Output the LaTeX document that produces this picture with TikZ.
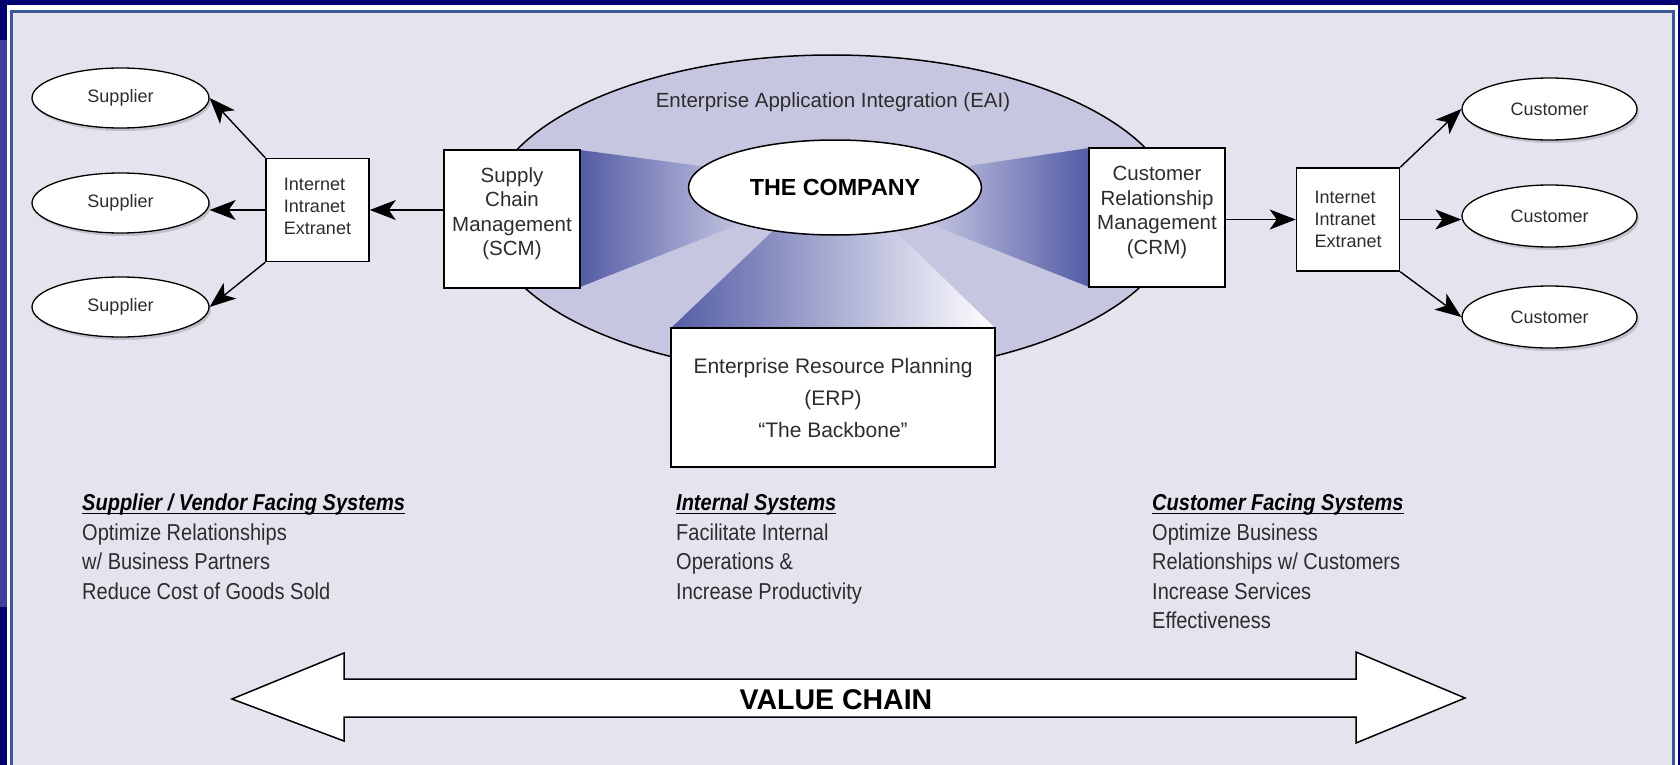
\documentclass[tikz,border=0pt]{standalone}
\usepackage{fontspec}
\setmainfont{Liberation Sans}
\newfontfamily\narrowfont[FakeStretch=0.87]{Liberation Sans}
\usetikzlibrary{arrows.meta,shapes.geometric,shadows}

\definecolor{framenavy}{RGB}{2,2,112}
\definecolor{framestrip}{RGB}{64,64,152}
\definecolor{panelbg}{RGB}{230,226,238}
\definecolor{panelrule}{RGB}{58,88,150}
\definecolor{eaifill}{RGB}{198,198,224}
\definecolor{wedgedark}{RGB}{84,92,165}
\definecolor{wedgelight}{RGB}{205,205,230}
\definecolor{inktext}{RGB}{45,45,45}

% heading with a heavy underline
\newcommand\ulhead[1]{\setbox0\hbox{#1}\rlap{\rule[-3.5pt]{\wd0}{1.6pt}}\box0}

\begin{document}
\begin{tikzpicture}[x=1pt,y=-1pt,
  oval/.style={ellipse, draw, fill=white, line width=1.3pt, inner sep=0pt,
    text=inktext, font=\fontsize{18}{22}\selectfont,
    drop shadow={shadow xshift=2pt, shadow yshift=-3pt, opacity=0.15, fill=black}},
  netbox/.style={draw, fill=white, line width=1.6pt, inner sep=0pt,
    minimum width=103pt, minimum height=103pt, align=left,
    text=inktext, font=\fontsize{18}{22}\selectfont},
  sysbox/.style={draw, fill=white, line width=1.8pt, inner sep=0pt,
    minimum width=136pt, minimum height=138pt, align=center,
    text=inktext, font=\fontsize{20.5}{24.5}\selectfont},
  flow/.style={line width=1.4pt,
    -{Stealth[length=26pt,width=20pt,inset=7pt,line width=1pt]}},
  notes/.style={anchor=north west, align=left, inner sep=0pt, text=inktext,
    font=\narrowfont\fontsize{23}{29.5}\selectfont},
]
\useasboundingbox (0,0) rectangle (1680,765);

% slide frame and panel
\fill[framenavy] (0,0) rectangle (1680,765);
\fill[framestrip] (0,40) rectangle (7,607);
\fill[white] (7,5) rectangle (1678,765);
\fill[panelbg] (10,10) rectangle (1675,765);
\draw[panelrule, line width=3pt] (11.5,780) -- (11.5,11.5) -- (1673.5,11.5) -- (1673.5,780);

% integration ring
\node[ellipse, draw, fill=eaifill, line width=1.5pt, minimum width=690pt,
  minimum height=320pt] (eai) at (832,215) {};
\node[text=inktext, font=\fontsize{20.5}{24}\selectfont] (eailabel) at (833,102)
  {Enterprise Application Integration (EAI)};

% shaded spokes towards the core
\shade[left color=wedgedark, right color=wedgelight]
  (580,150) -- (715,168) -- (755,218) -- (580,287) -- cycle;
\shade[left color=wedgelight, right color=wedgedark]
  (1089,148) -- (955,168) -- (915,218) -- (1089,287) -- cycle;
\shade[left color=wedgedark, right color=white]
  (671,328) -- (776,228) -- (892,228) -- (995,328) -- cycle;

% core
\node[ellipse, draw, fill=white, line width=1.5pt, minimum width=293pt,
  minimum height=95pt, inner sep=0pt, font=\bfseries\fontsize{23.3}{26}\selectfont]
  (core) at (835,187.5) {THE COMPANY};

% systems (the empty last line lifts the wording a little inside the box)
\node[sysbox] (scm) at (512,219) {Supply\\Chain\\Management\\(SCM)\\[-10pt]\mbox{}};
\node[sysbox, minimum height=139pt] (crm) at (1157,217.5)
  {Customer\\Relationship\\Management\\(CRM)\\[-10pt]\mbox{}};
\node[sysbox, minimum width=324pt, minimum height=139pt,
  font=\fontsize{21}{32}\selectfont] (erp) at (833,397.5)
  {Enterprise Resource Planning\\(ERP)\\``The Backbone''};

% network hubs
\node[netbox] (netl) at (317.5,210) {Internet\\Intranet\\Extranet\\[-14pt]\mbox{}};
\node[netbox] (netr) at (1348,219.5) {Internet\\Intranet\\Extranet};

% partners
\node[oval, minimum width=177pt, minimum height=60pt] (sup1) at (120.5,98) {Supplier};
\node[oval, minimum width=177pt, minimum height=60pt] (sup2) at (120.5,203) {Supplier};
\node[oval, minimum width=177pt, minimum height=60pt] (sup3) at (120.5,307) {Supplier};
\node[oval, minimum width=175pt, minimum height=62pt] (cus1) at (1549.5,109) {Customer};
\node[oval, minimum width=175pt, minimum height=62pt] (cus2) at (1549.5,216) {Customer};
\node[oval, minimum width=175pt, minimum height=62pt] (cus3) at (1549.5,317) {Customer};

% flows
\draw[flow] (scm.west |- netl.east) -- (netl.east);
\draw[flow] (netl.west) -- (netl.west -| sup2.east);
\draw[flow] (netl.north west) -- (sup1.east);
\draw[flow] (netl.south west) -- (sup3.east);
\draw[flow] (crm.east |- netr.west) -- (netr.west);
\draw[flow] (netr.east) -- (netr.east -| cus2.west);
\draw[flow] (netr.north east) -- (cus1.west);
\draw[flow] (netr.south east) -- (cus3.west);

% notes
\node[notes] (supnotes) at (82,494)
  {{\color{black}\bfseries\itshape\ulhead{Supplier / Vendor Facing Systems}}\\
   Optimize Relationships\\ w/ Business Partners\\ Reduce Cost of Goods Sold};
\node[notes] (intnotes) at (676,494)
  {{\color{black}\bfseries\itshape\ulhead{Internal Systems}}\\
   Facilitate Internal\\ Operations \&\\ Increase Productivity};
\node[notes] (cusnotes) at (1152,494)
  {{\color{black}\bfseries\itshape\ulhead{Customer Facing Systems}}\\
   Optimize Business\\ Relationships w/ Customers\\ Increase Services\\ Effectiveness};

% value chain
\draw[fill=white, line width=1.5pt, line join=miter]
  (232,699) -- (344,653) -- (344,679) -- (1356,679) -- (1356,652) -- (1465,698)
  -- (1356,743) -- (1356,717) -- (344,717) -- (344,741) -- cycle;
\node[font=\bfseries\fontsize{28.5}{30}\selectfont] (vc) at (836,700) {VALUE CHAIN};
\end{tikzpicture}
\end{document}
